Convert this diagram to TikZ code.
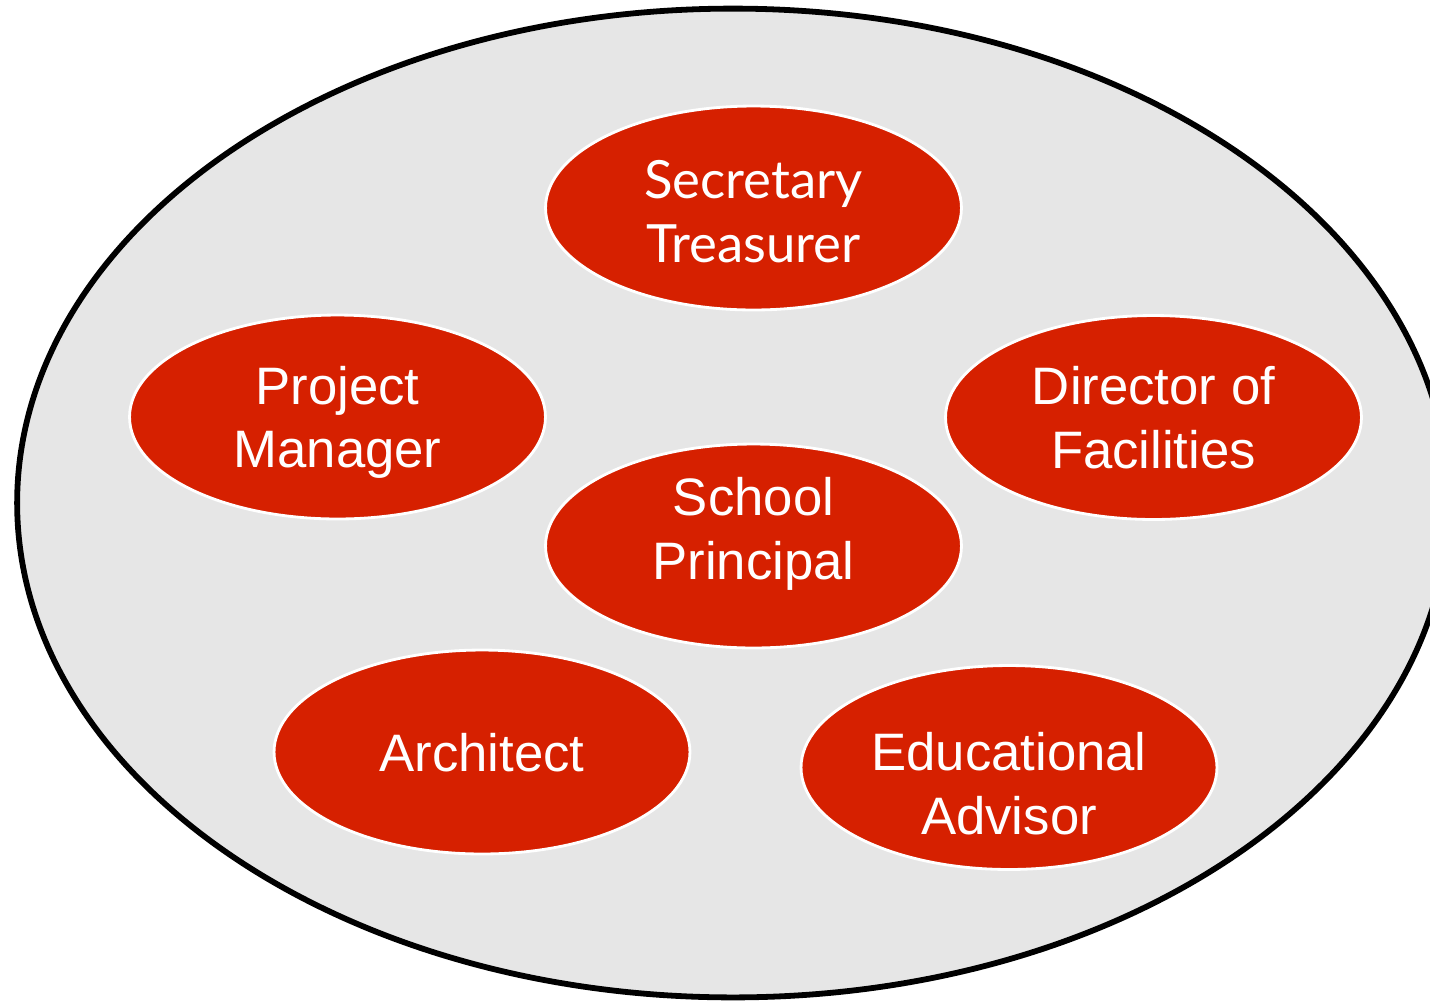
\documentclass[tikz,border=0pt]{standalone}
\usepackage{fontspec}
\setmainfont{Liberation Sans}
\newfontfamily\latofont{Lato}
\usetikzlibrary{shapes.geometric}
\definecolor{rolered}{RGB}{214,32,0}
\definecolor{groupgray}{RGB}{230,230,230}

\begin{document}
\begin{tikzpicture}[x=0.02cm, y=-0.02cm,
  role/.style={ellipse, fill=rolered, draw=white, line width=1.6pt, minimum width=8.32cm, minimum height=4.08cm, inner sep=0pt, text=white, align=center, text depth=0pt, font=\fontsize{30}{36.3}\selectfont}]
\useasboundingbox (0,0) rectangle (1430,1002);
\draw[fill=groupgray, line width=3.3pt] (733,503) ellipse [x radius=14.32cm, y radius=9.89cm];
\node[role, text height=62pt, font=\latofont\fontsize{30}{36.3}\selectfont] (secretary) at (753.5,208) {Secretary\\Treasurer};
\node[role] (manager) at (337.5,417) {Project\\Manager};
\node[role] (director) at (1153.5,417.5) {Director of\\Facilities};
\node[role, text depth=20pt] (principal) at (753.5,546) {School\\Principal};
\node[role] (architect) at (482,752) {Architect};
\node[role, text height=76.5pt] (advisor) at (1009,767.5) {Educational\\Advisor};
\end{tikzpicture}
\end{document}
